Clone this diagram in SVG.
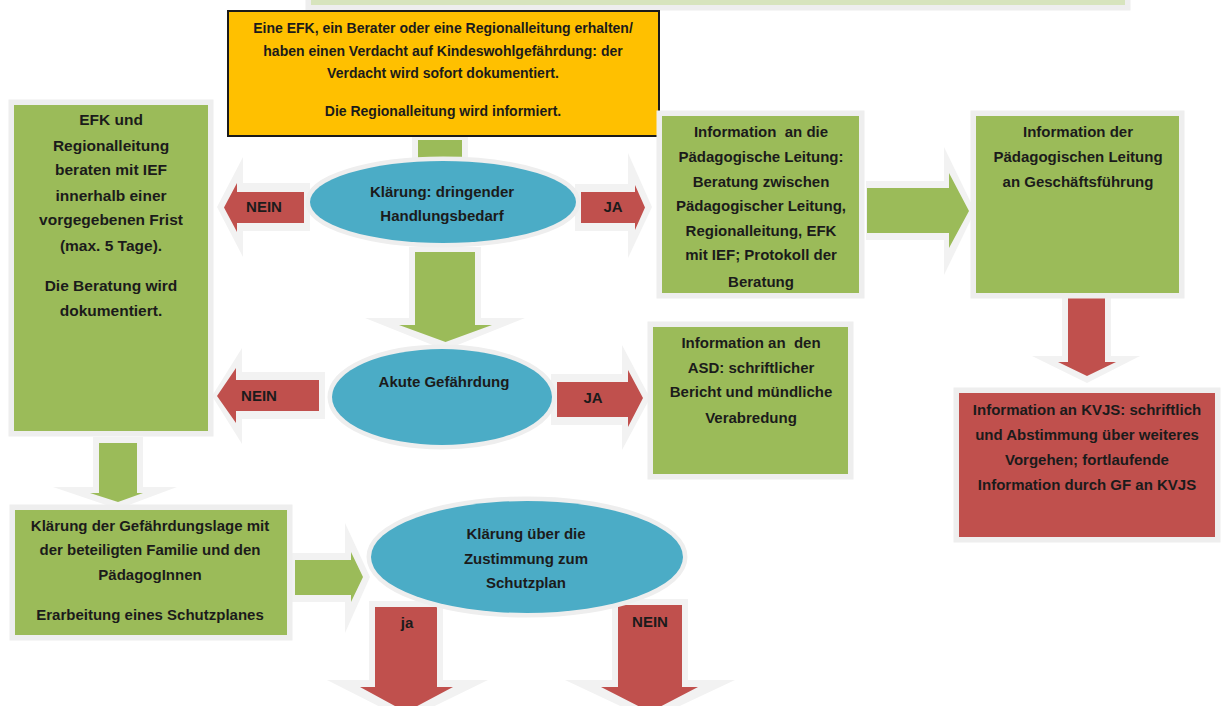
<svg xmlns="http://www.w3.org/2000/svg" width="1223" height="706" viewBox="0 0 1223 706">
<style>
text{font-family:"Liberation Sans",Arial,sans-serif;font-weight:bold;fill:#1b1b1b;text-anchor:middle;}
.t15{font-size:15px;}
.t16{font-size:15.5px;}
.t13{font-size:14px;}
.glow{fill:#f2f2f2;}
.green{fill:#9BBB59;}
.red{fill:#C0504D;}
.box{stroke:#eeeeee;stroke-width:11;paint-order:stroke;}
.ell{fill:#4BACC6;stroke:#eeeeee;stroke-width:9;paint-order:stroke;}
</style>
<rect width="1223" height="706" fill="#ffffff"/>
<g id="connectors">
  <polygon class="glow" points="310,183 243,183 243,157 217,207 243,257 243,231 310,231"/>
  <polygon class="glow" points="325,372 242,372 242,348 212,396 242,444 242,419 325,419"/>
  <polygon class="glow" points="575,184 628,184 628,153 652,207 628,258 628,231 575,231"/>
  <polygon class="glow" points="551,374 622,374 622,345 650,398 622,450 622,425 551,425"/>
  <polygon class="glow" points="409,247 481,247 481,318 525,318 445,350 365,318 409,318"/>
  <polygon class="glow" points="866,181 944,181 944,147 975,211 944,275 944,240 866,240"/>
  <polygon class="glow" points="1062,294 1111,294 1111,356 1140,356 1087,383 1032,356 1062,356"/>
  <polygon class="glow" points="93,437 143,437 143,487 177,487 118,509 53,487 93,487"/>
  <polygon class="glow" points="290,553 345,553 345,523 370,577 345,633 345,602 290,602"/>
  <polygon class="glow" points="369,601 443,601 443,680 488,680 406,720 327,680 369,680"/>
  <polygon class="glow" points="612,599 688,599 688,680 735,680 650,720 565,680 612,680"/>
  <rect class="glow" x="412" y="136" width="56" height="30"/>
  <rect class="green" x="418" y="140" width="44" height="28"/>
  <polygon class="red" points="304,192 237,192 237,183 224,207.5 237,232 237,223 304,223"/>
  <polygon class="red" points="319,380 236,380 236,368 217,396 236,423 236,411 319,411"/>
  <polygon class="red" points="581,192 635,192 635,185 645,207.5 635,230 635,223 581,223"/>
  <polygon class="red" points="557,382 628,382 628,370 643,398 628,427 628,417 557,417"/>
  <polygon class="green" points="415,252 475,252 475,325 492,325 445.5,342 399,325 415,325"/>
  <polygon class="green" points="867,188 949,188 949,173 969,211 949,248 949,233 867,233"/>
  <polygon class="red" points="1068,298 1105,298 1105,362 1116,362 1087,376 1058,362 1068,362"/>
  <polygon class="green" points="99,443 137,443 137,493 143,493 118,502 90,493 99,493"/>
  <polygon class="green" points="295,560 351,560 351,552 363,577 351,602 351,595 295,595"/>
  <polygon class="red" points="375,607 437,607 437,687 453,687 406,712 360,687 375,687"/>
  <polygon class="red" points="618,605 682,605 682,687 698,687 650,712 601,687 618,687"/>
  <text class="t15" x="264" y="212">NEIN</text>
  <text class="t15" x="259" y="401">NEIN</text>
  <text class="t15" x="613" y="212">JA</text>
  <text class="t15" x="593" y="403">JA</text>
  <text class="t15" x="407" y="628">ja</text>
  <text class="t15" x="650" y="627">NEIN</text>
</g>
<g id="partial-box">
  <rect class="box" x="311" y="-20" width="814" height="25" fill="#D7E4BD"/>
</g>
<g id="start">
  <rect x="228" y="11" width="431" height="125" fill="#FFC000" stroke="#1a1a1a" stroke-width="2"/>
  <text class="t13" x="443" y="33">Eine EFK, ein Berater oder eine Regionalleitung erhalten/</text>
  <text class="t13" x="443" y="56">haben einen Verdacht auf Kindeswohlgefährdung: der</text>
  <text class="t13" x="443" y="78">Verdacht wird sofort dokumentiert.</text>
  <text class="t13" x="443" y="116">Die Regionalleitung wird informiert.</text>
</g>
<g id="efk-beratung">
  <rect class="box green" x="14" y="105" width="194" height="326"/>
  <text class="t16" x="111" y="125">EFK und</text>
  <text class="t16" x="111" y="151">Regionalleitung</text>
  <text class="t16" x="111" y="175">beraten mit IEF</text>
  <text class="t16" x="111" y="201">innerhalb einer</text>
  <text class="t16" x="111" y="225">vorgegebenen Frist</text>
  <text class="t16" x="111" y="251">(max. 5 Tage).</text>
  <text class="t16" x="111" y="291">Die Beratung wird</text>
  <text class="t16" x="111" y="316">dokumentiert.</text>
</g>
<g id="klaerung-handlungsbedarf">
  <ellipse class="ell" cx="443" cy="202" rx="133" ry="41"/>
  <text class="t15" x="442" y="197">Klärung: dringender</text>
  <text class="t15" x="442" y="221">Handlungsbedarf</text>
</g>
<g id="info-paed-leitung">
  <rect class="box green" x="662" y="116" width="197" height="177"/>
  <text class="t15" x="761" y="137" xml:space="preserve">Information  an die</text>
  <text class="t15" x="761" y="162">Pädagogische Leitung:</text>
  <text class="t15" x="761" y="187">Beratung zwischen</text>
  <text class="t15" x="761" y="211">Pädagogischer Leitung,</text>
  <text class="t15" x="761" y="236">Regionalleitung, EFK</text>
  <text class="t15" x="761" y="260">mit IEF; Protokoll der</text>
  <text class="t15" x="761" y="287">Beratung</text>
</g>
<g id="info-gf">
  <rect class="box green" x="976" y="116" width="203" height="177"/>
  <text class="t15" x="1078" y="137">Information der</text>
  <text class="t15" x="1078" y="162">Pädagogischen Leitung</text>
  <text class="t15" x="1078" y="187">an Geschäftsführung</text>
</g>
<g id="akute-gefaehrdung">
  <ellipse class="ell" cx="442" cy="397" rx="110" ry="48"/>
  <text class="t15" x="444" y="387">Akute Gefährdung</text>
</g>
<g id="info-asd">
  <rect class="box green" x="653" y="327" width="195" height="147"/>
  <text class="t15" x="751" y="348" xml:space="preserve">Information an  den</text>
  <text class="t15" x="751" y="373">ASD: schriftlicher</text>
  <text class="t15" x="751" y="397">Bericht und mündliche</text>
  <text class="t15" x="751" y="423">Verabredung</text>
</g>
<g id="info-kvjs">
  <rect class="box red" x="959" y="393" width="256" height="144"/>
  <text class="t15" x="1087" y="415">Information an KVJS: schriftlich</text>
  <text class="t15" x="1087" y="440">und Abstimmung über weiteres</text>
  <text class="t15" x="1087" y="465">Vorgehen; fortlaufende</text>
  <text class="t15" x="1087" y="490">Information durch GF an KVJS</text>
</g>
<g id="gefaehrdungslage">
  <rect class="box green" x="15" y="510" width="272" height="125"/>
  <text class="t15" x="150" y="531">Klärung der Gefährdungslage mit</text>
  <text class="t15" x="150" y="555">der beteiligten Familie und den</text>
  <text class="t15" x="150" y="580">PädagogInnen</text>
  <text class="t15" x="150" y="620">Erarbeitung eines Schutzplanes</text>
</g>
<g id="zustimmung-schutzplan">
  <ellipse class="ell" cx="527" cy="557" rx="156" ry="56"/>
  <text class="t15" x="526" y="539">Klärung über die</text>
  <text class="t15" x="526" y="564">Zustimmung zum</text>
  <text class="t15" x="526" y="588">Schutzplan</text>
</g>
</svg>
